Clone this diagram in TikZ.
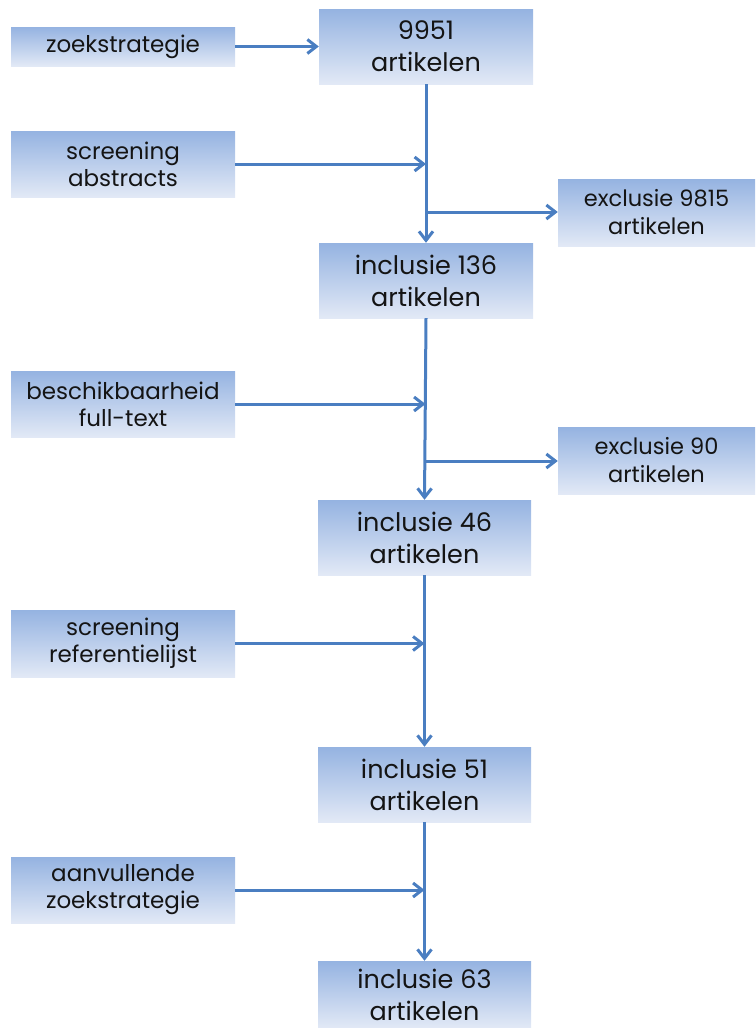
\documentclass[tikz,border=0pt]{standalone}
\usepackage{fontspec}
\setmainfont{Poppins}
\usetikzlibrary{arrows.meta,calc}
\definecolor{gtop}{RGB}{149,179,225}
\definecolor{gbot}{RGB}{226,233,246}
\definecolor{lineblue}{RGB}{74,126,193}
\tikzset{
  box/.style={rectangle, inner sep=0pt, top color=gtop, bottom color=gbot, draw=none, align=center, text=black!92},
  bigbox/.style={box, minimum width=213pt, minimum height=75pt, font=\fontsize{25.5}{32}\selectfont},
  smallbox/.style={box, minimum width=224pt, font=\fontsize{23}{27}\selectfont},
  exbox/.style={box, minimum width=197pt, minimum height=67pt, font=\fontsize{22.5}{28}\selectfont},
  conn/.style={draw=lineblue, line width=3pt},
  arr/.style={conn, -{Straight Barb[length=9pt,width=14pt,line width=3pt]}},
}
\begin{document}
\begin{tikzpicture}[x=1pt,y=1pt]
\useasboundingbox (0,0) rectangle (755,-1028);
% left boxes
\node[smallbox, minimum height=39pt] (zoek) at (123,-46.5) {zoekstrategie};
\node[smallbox, minimum height=66pt] (abs) at (123,-164) {screening\\abstracts};
\node[smallbox, minimum height=66pt] (besch) at (123,-404) {beschikbaarheid\\full-text};
\node[smallbox, minimum height=67pt] (ref) at (123,-643.5) {screening\\referentielijst};
\node[smallbox, minimum height=66pt] (aanv) at (123,-890) {aanvullende\\zoekstrategie};
% main boxes
\node[bigbox, minimum width=214pt] (n9951) at (426,-46.5) {9951\\artikelen};
\node[bigbox, minimum width=214pt] (inc136) at (426,-280.5) {inclusie 136\\artikelen};
\node[bigbox] (inc46) at (424.5,-537.5) {inclusie 46\\artikelen};
\node[bigbox] (inc51) at (424.5,-784.5) {inclusie 51\\artikelen};
\node[bigbox, minimum height=67pt] (inc63) at (424.5,-994.5) {inclusie 63\\artikelen};
% exclusion boxes
\node[exbox] (ex1) at (656.5,-212.5) {exclusie 9815\\artikelen};
\node[exbox] (ex2) at (656.5,-460.5) {exclusie 90\\artikelen};
% junction coordinates
\coordinate (j1) at (426,-164);
\coordinate (j2) at (426,-212);
\coordinate (j3) at (425.5,-404);
\coordinate (j4) at (425,-461);
\coordinate (j5) at (424.5,-643.5);
\coordinate (j6) at (424.5,-890);
% connectors
\draw[arr] (zoek.east) -- (zoek.east -| n9951.west);
\draw[arr] (n9951.south) -- (inc136.north);
\draw[arr] (abs.east) -- (j1);
\draw[arr] (j2) -- (ex1.west |- j2);
\draw[arr] (inc136.south) -- (inc46.north);
\draw[arr] (besch.east) -- (j3);
\draw[arr] (j4) -- (ex2.west |- j4);
\draw[arr] (inc46.south) -- (inc51.north);
\draw[arr] (ref.east) -- (j5);
\draw[arr] (inc51.south) -- (inc63.north);
\draw[arr] (aanv.east) -- (j6);
\end{tikzpicture}
\end{document}
